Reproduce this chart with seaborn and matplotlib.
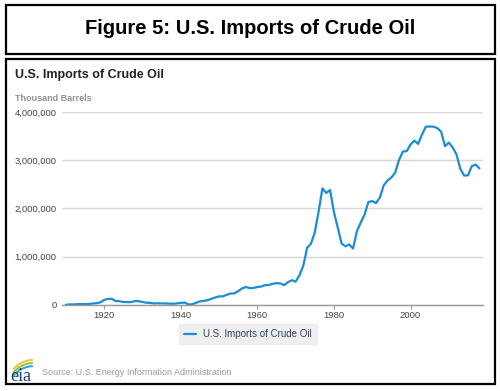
import matplotlib
matplotlib.use("Agg")
import matplotlib.pyplot as plt
from matplotlib.patches import Rectangle, Arc
from matplotlib.ticker import FuncFormatter
import seaborn as sns
import pandas as pd

# annual U.S. crude oil imports, thousand barrels
years = list(range(1910, 2019))
imports = [
    1000, 13000, 9000, 17800, 17200, 18100, 20600, 30200, 37700, 52800,
    106000, 125000, 127000, 82000, 77800, 61800, 60400, 58400, 79800, 78900,
    62100, 47300, 44700, 31900, 35600, 32200, 32300, 27500, 26400, 33100,
    42700, 50600, 12300, 13800, 44800, 74300, 86100, 97500, 129100, 153700,
    177700, 179100, 209600, 236500, 239500, 285400, 341800, 373300, 348000, 352300,
    371600, 381500, 411000, 412700, 438600, 452000, 447100, 411600, 472300, 513400,
    483300, 613400, 811100, 1184000, 1269200, 1498200, 1935000, 2414300, 2319800, 2380000,
    1926300, 1605000, 1273300, 1215200, 1253700, 1168400, 1525100, 1706000, 1869200, 2133100,
    2151400, 2110600, 2225900, 2476600, 2578100, 2638900, 2740300, 3002300, 3177600, 3186600,
    3319800, 3404900, 3336200, 3527700, 3692100, 3696000, 3693100, 3661400, 3589700, 3289700,
    3362900, 3261400, 3120800, 2821500, 2680600, 2684000, 2875000, 2907000, 2829000,
]
x_ticks = [1920, 1940, 1960, 1980, 2000]
y_ticks = [0, 1000000, 2000000, 3000000, 4000000]
series_name = "U.S. Imports of Crude Oil"

df = pd.DataFrame({"year": years, "imports": imports})

sns.set_theme(style="white")
plt.rcParams["font.family"] = ["Liberation Sans", "DejaVu Sans"]

fig = plt.figure(figsize=(5, 3.91), dpi=100)
fig.patch.set_facecolor("white")

# outer boxes
fig.patches.append(Rectangle((0.012, 0.862), 0.978, 0.125, transform=fig.transFigure,
                             fill=False, edgecolor="black", linewidth=1.6))
fig.patches.append(Rectangle((0.012, 0.018), 0.978, 0.831, transform=fig.transFigure,
                             fill=False, edgecolor="black", linewidth=1.6))

fig.text(0.5, 0.926, "Figure 5: U.S. Imports of Crude Oil", ha="center", va="center",
         fontsize=14.5, fontweight="bold", color="black")
fig.text(0.03, 0.808, "U.S. Imports of Crude Oil", ha="left", va="center",
         fontsize=9, fontweight="bold", color="#222222")
fig.text(0.03, 0.749, "Thousand Barrels", ha="left", va="center",
         fontsize=6.5, fontweight="bold", color="#909090")

ax = fig.add_axes([0.124, 0.22, 0.841, 0.494])
sns.lineplot(data=df, x="year", y="imports", ax=ax, color="#1a8dd6",
             linewidth=1.6, label=series_name)

ax.set_xlim(1909, 2018.8)
ax.set_ylim(0, 4000000)
ax.set_xticks(x_ticks)
ax.set_yticks(y_ticks)
ax.yaxis.set_major_formatter(FuncFormatter(lambda v, p: f"{int(v):,}"))
ax.set_xlabel("")
ax.set_ylabel("")
ax.grid(axis="y", color="#d8d8d8", linewidth=1)
ax.set_axisbelow(True)
for s in ["top", "right", "left"]:
    ax.spines[s].set_visible(False)
ax.spines["bottom"].set_color("#999999")
ax.spines["bottom"].set_linewidth(1)
ax.tick_params(axis="x", length=3, width=0.8, color="#999999", labelsize=6.8,
               labelcolor="#444444", pad=1, direction="out", bottom=True)
ax.tick_params(axis="y", length=0, labelsize=6.8, labelcolor="#444444", pad=4)

leg = fig.legend(*ax.get_legend_handles_labels(), loc="upper center",
                 bbox_to_anchor=(0.496, 0.183), frameon=True,
                 fontsize=7, handlelength=1.2, borderpad=0.5, fancybox=False)
ax.get_legend().remove()
leg.get_frame().set_facecolor("#ebebeb")
leg.get_frame().set_edgecolor("#ebebeb")
for t in leg.get_texts():
    t.set_color("#33435a")

# eia logo and source
fig.text(0.02, 0.036, "eia", ha="left", va="center", fontsize=13,
         family="Liberation Serif", color="#1f3e6e")
for col, dy in [("#f2c12e", 0.0), ("#8cc63f", -0.008), ("#2a9fd8", -0.016)]:
    fig.patches.append(Arc((0.07, 0.03 + dy), 0.1, 0.1, theta1=95, theta2=150,
                           transform=fig.transFigure, color=col, linewidth=1.4))
fig.text(0.083, 0.048, "Source: U.S. Energy Information Administration", ha="left",
         va="center", fontsize=6.5, color="#9a9a9a")

fig.savefig("out.png", dpi=100)
